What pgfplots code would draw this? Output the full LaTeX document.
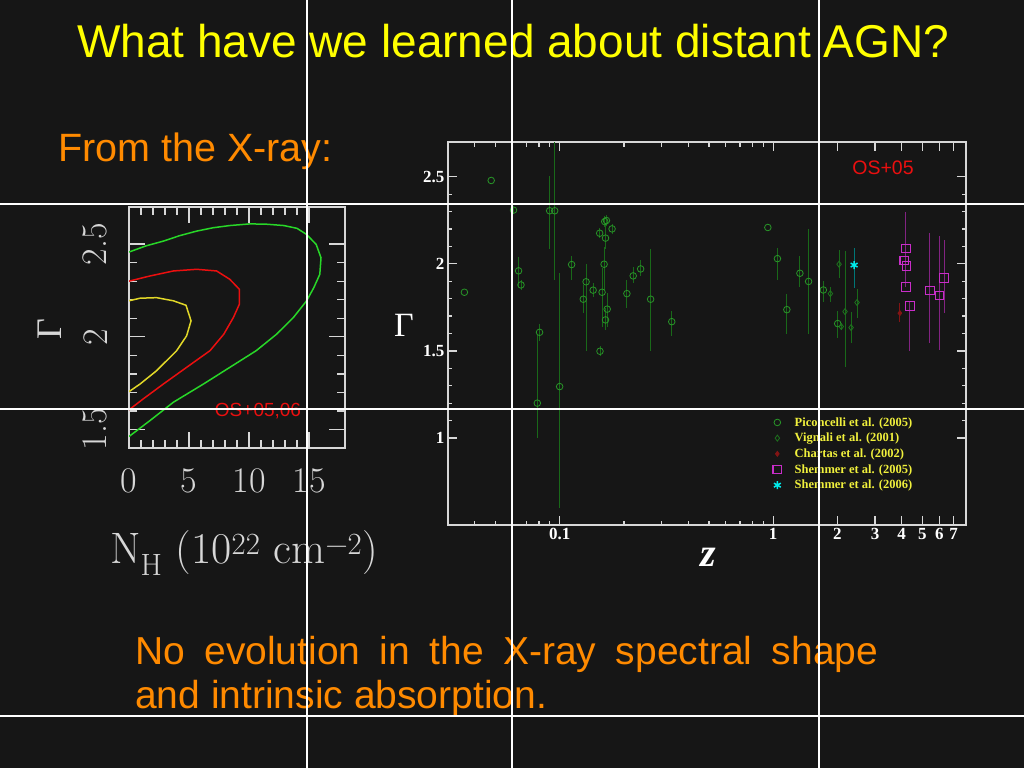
\documentclass[border=0pt]{standalone}
\usepackage{fontspec}
\usepackage{pgfplots}
\pgfplotsset{compat=1.18}
\usepackage{pgfplotstable}
\newfontfamily\arialf{Liberation Sans}
\newfontfamily\tnr{Liberation Serif}
\definecolor{bg}{RGB}{22,22,22}
\definecolor{ttl}{RGB}{255,255,0}
\definecolor{org}{RGB}{255,138,0}
\definecolor{axg}{RGB}{215,215,215}
\definecolor{cgreen}{RGB}{40,215,40}
\definecolor{cred}{RGB}{235,15,15}
\definecolor{cyel}{RGB}{225,215,40}
\definecolor{pgreen}{RGB}{40,150,40}
\definecolor{egreen}{RGB}{25,105,25}
\definecolor{vgreen}{RGB}{30,115,30}
\definecolor{dred}{RGB}{130,20,20}
\definecolor{mag}{RGB}{200,45,200}
\definecolor{emag}{RGB}{130,35,130}
\definecolor{cyn}{RGB}{0,235,235}
\definecolor{lyel}{RGB}{240,240,60}

% Piconcelli et al. (2005)
\pgfplotstableread{
z g ep em
0.0358 1.837 0 0
0.0478 2.479 0 0
0.0608 2.309 0.02 0.02
0.0642 1.960 0.08 0.09
0.0659 1.879 0.03 0.03
0.0786 1.200 0.40 0.20
0.0805 1.607 0.05 0.05
0.0898 2.305 0.20 0.22
0.0948 2.305 0.45 0.40
0.1000 1.295 0.65 0.70
0.1138 1.996 0.05 0.09
0.1290 1.797 0.08 0.08
0.1330 1.897 0.10 0.40
0.1435 1.849 0.04 0.04
0.1540 2.176 0.03 0.03
0.1580 1.837 0.14 0.20
0.1615 1.998 0.10 0.15
0.1545 1.498 0.03 0.03
0.1626 2.243 0.03 0.03
0.1656 2.249 0.03 0.03
0.1640 2.148 0.08 0.06
0.1760 2.201 0.03 0.03
0.1670 1.740 0.09 0.10
0.1640 1.678 0.07 0.06
0.2065 1.829 0.08 0.08
0.2210 1.931 0.05 0.04
0.2395 1.971 0.05 0.04
0.2667 1.797 0.29 0.30
0.3350 1.668 0.06 0.08
0.9440 2.209 0 0
1.0470 2.030 0.06 0.12
1.1590 1.737 0.09 0.14
1.3340 1.946 0.10 0.08
1.4650 1.899 0.30 0.30
1.7180 1.850 0.05 0.07
2.0050 1.657 0.07 0.08
}\picon
% Vignali et al. (2001)
\pgfplotstableread{
z g ep em
1.853 1.829 0.04 0.05
2.035 1.998 0.08 0.08
2.084 1.640 0.02 0.02
2.170 1.726 0.35 0.32
2.317 1.634 0.09 0.09
2.470 1.778 0.08 0.09
}\vign
% Chartas et al. (2002)
\pgfplotstableread{
z g ep em
3.92 1.717 0.06 0.05
}\chart
% Shemmer et al. (2005)
\pgfplotstableread{
z g ep em
4.18 2.088 0.21 0.22
4.11 2.019 0 0
4.21 1.989 0 0
4.18 1.868 0 0
4.37 1.759 0.02 0.26
5.42 1.847 0.33 0.30
6.01 1.818 0.34 0.31
6.31 1.918 0.22 0.20
}\shema
% Shemmer et al. (2006)
\pgfplotstableread{
z g ep em
2.393 1.993 0.10 0.13
}\shemb

\begin{document}
\begin{tikzpicture}
\fill[bg] (0,0) rectangle (1024pt,-768pt);

% title and texts
\node[anchor=base, text=ttl, font=\arialf\fontsize{46}{46}\selectfont, inner sep=0] at (513pt,-57pt) {What have we learned about distant AGN?};
\node[anchor=base west, text=org, font=\arialf\fontsize{39.5}{40}\selectfont, inner sep=0] at (58pt,-161pt) {From the X-ray:};
\node[anchor=base west, text=org, font=\arialf\fontsize{39}{40}\selectfont, inner sep=0] at (135pt,-664pt) {\makebox[743pt][s]{No evolution in the X-ray spectral shape}};
\node[anchor=base west, text=org, font=\arialf\fontsize{39}{40}\selectfont, inner sep=0] at (135pt,-708pt) {and intrinsic absorption.};

% left contour plot
\begin{axis}[
  at={(129pt,-448pt)}, anchor=south west,
  scale only axis, width=216pt, height=241pt,
  xmin=0, xmax=18, ymin=1.4, ymax=2.7,
  xtick={0,5,10,15}, minor x tick num=4,
  ytick={1.5,2,2.5}, minor y tick num=4,
  tick pos=both,
  /pgf/number format/assume math mode=true,
  axis line style={draw=axg, line width=1.5pt},
  every tick/.style={draw=axg, line width=1.3pt},
  major tick length=16pt, minor tick length=8pt,
  tick label style={text=axg, font=\fontsize{36}{36}\selectfont},
  xticklabel style={yshift=-17pt},
  yticklabel style={xshift=-18pt, rotate=90, anchor=south},
]
\addplot[cgreen, line width=1.5pt] coordinates {
(0,2.457) (1.4,2.49) (2.86,2.516) (4.2,2.545) (5.64,2.57) (7,2.588) (8.4,2.600) (10.1,2.609) (11.5,2.607) (12.9,2.600) (14.0,2.585) (14.8,2.552) (15.6,2.498) (16.0,2.426) (15.9,2.337) (15.4,2.265) (14.8,2.194) (13.7,2.104) (12.3,2.014) (10.6,1.925) (8.4,1.835) (6.2,1.745) (3.7,1.647) (1.75,1.548) (0,1.462)};
\addplot[cred, line width=1.5pt] coordinates {
(0,2.300) (1.75,2.328) (3.7,2.355) (5.64,2.364) (7.3,2.355) (8.4,2.310) (9.2,2.256) (9.2,2.176) (8.7,2.104) (7.9,2.014) (6.75,1.925) (4.8,1.835) (2.86,1.745) (1.19,1.665) (0,1.606)};
\addplot[cyel, line width=1.5pt] coordinates {
(0,2.194) (0.92,2.208) (2.3,2.211) (3.7,2.194) (4.75,2.170) (5.17,2.086) (4.8,2.005) (3.97,1.925) (2.3,1.817) (0.92,1.745) (0,1.704)};
\node[text=cred, font=\arialf\fontsize{19}{19}\selectfont, inner sep=0] at (axis cs:10.75,1.597) {OS+05,06};
\end{axis}
\node[rotate=90, text=axg, font=\tnr\fontsize{36}{36}\selectfont, inner sep=0] at (50pt,-329pt) {Γ};
\node[text=axg, font=\fontsize{44}{44}\selectfont, inner sep=0] at (244pt,-553pt) {N\textsubscript{H} (10\textsuperscript{22} cm\textsuperscript{−2})};

% right plot
\begin{axis}[
  at={(448pt,-525pt)}, anchor=south west,
  scale only axis, width=518pt, height=383pt,
  xmode=log, xmin=0.03, xmax=8, ymin=0.5, ymax=2.7,
  xtick={0.1,1,2,3,4,5,6,7}, xticklabels={0.1,1,2,3,4,5,6,7},
  minor xtick={0.04,0.05,0.06,0.07,0.08,0.09,0.2,0.3,0.4,0.5,0.6,0.7,0.8,0.9},
  ytick={1,1.5,2,2.5}, yticklabels={1,1.5,2,2.5}, minor y tick num=4,
  tick pos=both,
  axis line style={draw=axg, line width=1.5pt},
  every tick/.style={draw=axg, line width=1.2pt},
  major tick length=9pt, minor tick length=4.5pt,
  tick label style={text=white, font=\tnr\bfseries\fontsize{17}{17}\selectfont},
  legend style={at={(rel axis cs:0.6213,0.292)}, anchor=north west, draw=none, fill=none,
    font=\tnr\bfseries\fontsize{12.5}{15.7}\selectfont, text=lyel, row sep=1.5pt,
    /tikz/every odd column/.append style={column sep=11pt}},
  legend cell align=left,
  error bars/y dir=both, error bars/y explicit,
  error bars/error mark=none,
]
\addplot[only marks, mark=o, mark size=3.3pt, color=pgreen, line width=0.8pt,
  error bars/error bar style={egreen, line width=0.9pt}]
  table[x=z, y=g, y error plus=ep, y error minus=em] {\picon};
\addlegendentry{Piconcelli et al. (2005)}
\addplot[only marks, mark=diamond, mark size=3pt, color=vgreen, line width=0.8pt,
  error bars/error bar style={egreen, line width=0.9pt}]
  table[x=z, y=g, y error plus=ep, y error minus=em] {\vign};
\addlegendentry{Vignali et al. (2001)}
\addplot[only marks, mark=diamond*, mark size=2.5pt, color=dred, line width=0.8pt,
  error bars/error bar style={dred, line width=0.9pt}]
  table[x=z, y=g, y error plus=ep, y error minus=em] {\chart};
\addlegendentry{Chartas et al. (2002)}
\addplot[only marks, mark=square, mark size=4.3pt, color=mag, line width=1.1pt,
  error bars/error bar style={emag, line width=0.9pt}]
  table[x=z, y=g, y error plus=ep, y error minus=em] {\shema};
\addlegendentry{Shemmer et al. (2005)}
\addplot[only marks, mark=asterisk, mark size=4pt, color=cyn, line width=1.5pt,
  error bars/error bar style={cyn!50!black, line width=0.9pt}]
  table[x=z, y=g, y error plus=ep, y error minus=em] {\shemb};
\addlegendentry{Shemmer et al. (2006)}
\end{axis}
\node[text=white, font=\tnr\fontsize{34}{34}\selectfont, inner sep=0] at (404pt,-325pt) {Γ};
\node[text=white, font=\tnr\itshape\bfseries\fontsize{40}{40}\selectfont, inner sep=0] at (708pt,-557pt) {z};
\node[text=cred, font=\arialf\fontsize{19.5}{19.5}\selectfont, inner sep=0] at (883pt,-168pt) {OS+05};

% slide guide lines
\draw[white, line width=1.5pt] (307pt,0) -- (307pt,-768pt);
\draw[white, line width=1.5pt] (512pt,0) -- (512pt,-768pt);
\draw[white, line width=1.5pt] (819pt,0) -- (819pt,-768pt);
\draw[white, line width=1.5pt] (0,-204pt) -- (1024pt,-204pt);
\draw[white, line width=1.5pt] (0,-409pt) -- (1024pt,-409pt);
\draw[white, line width=1.5pt] (0,-716pt) -- (1024pt,-716pt);

\pgfresetboundingbox
\useasboundingbox (0,0) rectangle (1024pt,-768pt);
\end{tikzpicture}
\end{document}
